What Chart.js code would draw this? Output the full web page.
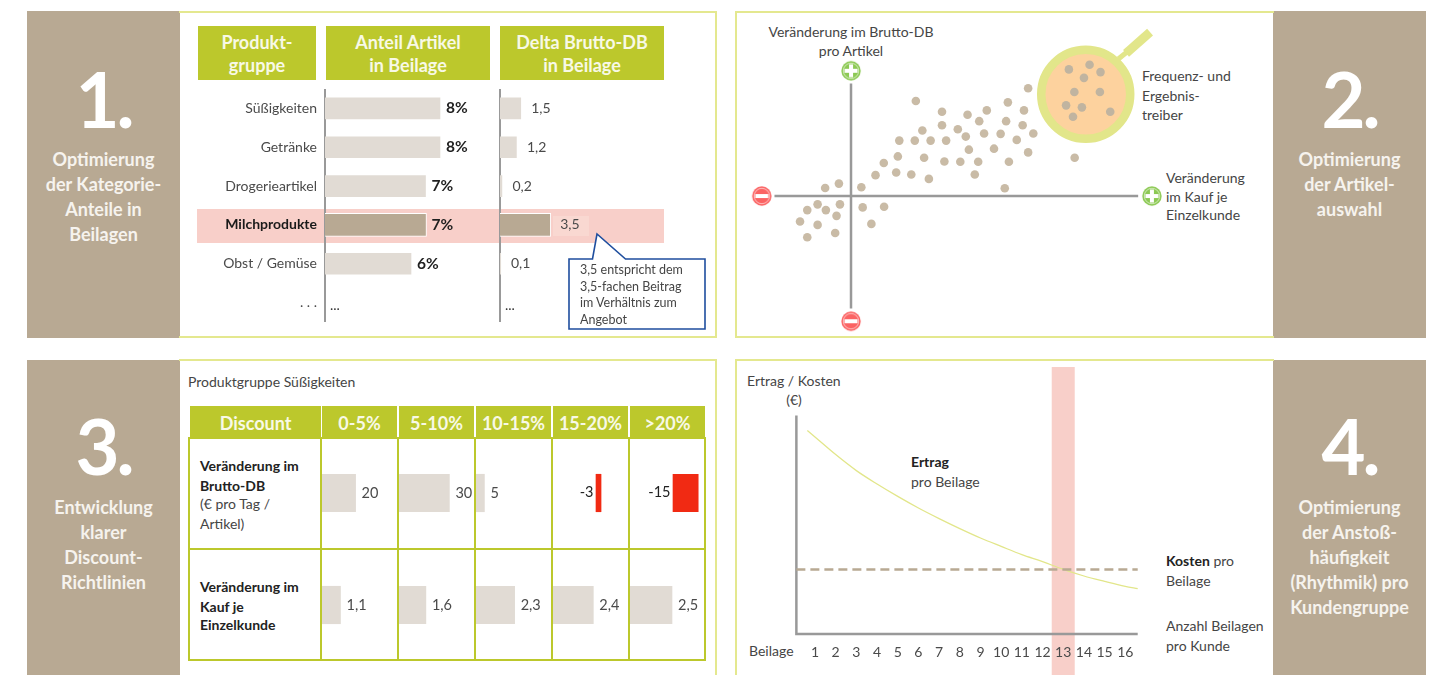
<!DOCTYPE html>
<html lang="de">
<head>
<meta charset="utf-8">
<title>Optimierung von Beilagen</title>
<script src="https://cdn.jsdelivr.net/npm/chart.js@4"></script>
<style>
  html, body { margin: 0; padding: 0; background: #fff; }
  #page { position: relative; width: 1439px; height: 675px; overflow: hidden; font-family: Lato, sans-serif; color: #454545; font-size: 14px; }
  #page canvas { position: absolute; display: block; }
  .side { position: absolute; background: #b8a993; width: 153px; color: #f6f3ee; text-align: center; }
  .num { position: absolute; left: 0; width: 153px; top: 40px; font-size: 76px; line-height: 96px; font-weight: 700; color: #fff; letter-spacing: -3px; }
  .cap { position: absolute; left: 0; width: 153px; top: 136px; font-size: 18px; line-height: 25px; font-weight: 700; }
  .frame { position: absolute; border: 2px solid #e4e88f; box-sizing: border-box; }
  .head { position: absolute; background: #bcc82c; color: #f8f9e6; font-weight: 700; text-align: center; font-size: 18px; line-height: 23px; box-sizing: border-box; }
  .t { position: absolute; white-space: nowrap; line-height: 20px; }
  .b { font-weight: 700; color: #222; }
  .line { position: absolute; background: #bcc82c; }
</style>
</head>
<body>
<div id="page">
  <!-- Seitenleisten -->
  <div class="side" style="left:27px;top:11px;height:327px"><div class="num">1.</div><div class="cap">Optimierung<br>der Kategorie-<br>Anteile in<br>Beilagen</div></div>
  <div class="side" style="left:1273px;top:11px;height:327px"><div class="num">2.</div><div class="cap">Optimierung<br>der Artikel-<br>auswahl</div></div>
  <div class="side" style="left:27px;top:360px;height:315px"><div class="num" style="top:38px">3.</div><div class="cap" style="top:135px">Entwicklung<br>klarer<br>Discount-<br>Richtlinien</div></div>
  <div class="side" style="left:1273px;top:360px;height:315px"><div class="num" style="top:38px">4.</div><div class="cap" style="top:135px">Optimierung<br>der Anstoß-<br>häufigkeit<br>(Rhythmik) pro<br>Kundengruppe</div></div>

  <!-- Rahmen -->
  <div class="frame" style="left:179px;top:11px;width:538px;height:327px;border-left:0"></div>
  <div class="frame" style="left:735px;top:11px;width:539px;height:327px;border-right:0"></div>
  <div class="frame" style="left:179px;top:359px;width:538px;height:330px;border-left:0"></div>
  <div class="frame" style="left:735px;top:359px;width:539px;height:330px;border-right:0"></div>

  <!-- Feld 1: Kopfzeilen und Markierung -->
  <div class="head" style="left:198px;top:26px;width:118px;height:54px;padding-top:5px">Produkt-<br>gruppe</div>
  <div class="head" style="left:326px;top:26px;width:164px;height:54px;padding-top:5px">Anteil Artikel<br>in Beilage</div>
  <div class="head" style="left:500px;top:26px;width:164px;height:54px;padding-top:5px">Delta Brutto-DB<br>in Beilage</div>
  <div style="position:absolute;left:197px;top:209px;width:467px;height:34px;background:#f8cfc9"></div>
  <div style="position:absolute;left:553px;top:216px;width:36px;height:20px;background:#f9d8d1"></div>

  <!-- Feld 3: Tabelle -->
  <div class="t" style="left:188px;top:372px">Produktgruppe Süßigkeiten</div>
  <div class="head" style="left:190px;top:406px;width:131px;height:31px;line-height:34px">Discount</div>
  <div class="head" style="left:322px;top:406px;width:75px;height:31px;line-height:34px">0-5%</div>
  <div class="head" style="left:399px;top:406px;width:75px;height:31px;line-height:34px">5-10%</div>
  <div class="head" style="left:476px;top:406px;width:75px;height:31px;line-height:34px">10-15%</div>
  <div class="head" style="left:553px;top:406px;width:75px;height:31px;line-height:34px">15-20%</div>
  <div class="head" style="left:630px;top:406px;width:75px;height:31px;line-height:34px">&gt;20%</div>
  <div style="position:absolute;left:188px;top:437px;width:518px;height:224px;border:2px solid #bcc82c;box-sizing:border-box"></div>
  <div class="line" style="left:188px;top:548px;width:518px;height:2px"></div>
  <div class="line" style="left:320px;top:437px;width:2px;height:224px"></div>
  <div class="line" style="left:397px;top:437px;width:2px;height:224px"></div>
  <div class="line" style="left:474px;top:437px;width:2px;height:224px"></div>
  <div class="line" style="left:551px;top:437px;width:2px;height:224px"></div>
  <div class="line" style="left:628px;top:437px;width:2px;height:224px"></div>
  <div class="t b" style="left:200px;top:456px">Veränderung im</div>
  <div class="t b" style="left:200px;top:476px">Brutto-DB</div>
  <div class="t" style="left:200px;top:494px">(€ pro Tag /</div>
  <div class="t" style="left:200px;top:514px">Artikel)</div>
  <div class="t b" style="left:200px;top:577px">Veränderung im</div>
  <div class="t b" style="left:200px;top:597px">Kauf je</div>
  <div class="t b" style="left:200px;top:615px">Einzelkunde</div>

  <!-- Feld 2: Beschriftung -->
  <div class="t" style="left:851px;top:22px;transform:translateX(-50%)">Veränderung im Brutto-DB</div>
  <div class="t" style="left:851px;top:41px;transform:translateX(-50%)">pro Artikel</div>
  <div class="t" style="left:1142px;top:66px">Frequenz- und</div>
  <div class="t" style="left:1142px;top:86px">Ergebnis-</div>
  <div class="t" style="left:1142px;top:105px">treiber</div>
  <div class="t" style="left:1166px;top:168px">Veränderung</div>
  <div class="t" style="left:1166px;top:187px">im Kauf je</div>
  <div class="t" style="left:1166px;top:205px">Einzelkunde</div>

  <!-- Feld 4: Beschriftung -->
  <div class="t" style="left:747px;top:371px">Ertrag / Kosten</div>
  <div class="t" style="left:794px;top:390px;transform:translateX(-50%)">(€)</div>
  <div class="t b" style="left:911px;top:452px">Ertrag</div>
  <div class="t" style="left:911px;top:472px">pro Beilage</div>
  <div class="t" style="left:1166px;top:551px"><span class="b">Kosten</span> pro</div>
  <div class="t" style="left:1166px;top:571px">Beilage</div>
  <div class="t" style="left:1166px;top:616px">Anzahl Beilagen</div>
  <div class="t" style="left:1166px;top:636px">pro Kunde</div>
  <div class="t" style="left:749px;top:641px">Beilage</div>
</div>

<script>
// Feld 1
const categories = ['Süßigkeiten', 'Getränke', 'Drogerieartikel', 'Milchprodukte', 'Obst / Gemüse', '. . .'];
const anteilArtikel = [8, 8, 7, 7, 6, null];
const deltaBrutto = [1.5, 1.2, 0.2, 3.5, 0.1, null];

// Feld 2
const artikelX = [62.7, 88, 112.7, 131.3, 151.7, 171.3, 167.3, 124, 150, 166, 88, 103.3, 69, 46.7, 61.7, 77, 92, 111, 128.7, 144.7, 160.3, 176.3, 138.3, 114, 171.3, 45.3, 70.7, 31.7, 90.3, 105.7, 123, 152.7, 216.3, 23.7, 43.7, 58.3, 75.3, 119.7, 148.7, 10, -11.7, -25, -32.3, -42.3, -24.3, -10.7, -14, -49.3, -32.3, -15.3, -42.3, 11.3, 32, 19.7];
const artikelY = [94.3, 83.7, 80.7, 85, 93, 107, 85, 74.3, 74.3, 70.3, 70.3, 66.3, 65, 55, 55, 55, 55, 59, 62, 61.7, 55.7, 62, 47, 46, 43.3, 39.3, 38, 32.7, 34.3, 34, 34, 34, 38, 20.7, 23.3, 21.3, 17, 21.3, 7.7, 8.7, 12.3, 8, -8.3, -14, -14, -8.3, -19.7, -25.3, -28.7, -36.7, -41, -11.3, -10.7, -27.7];
const treiberX = [210.7, 230.7, 241.3, 225.3, 216, 240.7, 208, 223.3, 214.7, 250.7];
const treiberY = [125.7, 130.3, 123, 117.3, 103.3, 103.3, 90, 88, 78.7, 83.7];

// Feld 3
const discountStufen = ['0-5%', '5-10%', '10-15%', '15-20%', '>20%'];
const bruttoDb = [20, 30, 5, -3, -15];
const kaufJeKunde = [1.1, 1.6, 2.3, 2.4, 2.5];

// Feld 4
const beilageX = [0.63, 1, 2, 3, 4, 5, 6, 7, 8, 9, 10, 11, 12, 13, 14, 15, 16, 16.6];
const ertrag = [101.7, 98.5, 89.7, 81.7, 75, 68.8, 63, 57.7, 52.7, 48, 43.8, 39.7, 36.2, 32.3, 29, 26.3, 23.8, 22.7];
const kosten = 32.3;

const FONT = 'Lato, sans-serif';
const page = document.getElementById('page');
const zip = (xs, ys) => xs.map((x, i) => ({ x, y: ys[i] }));
const comma = v => String(v).replace('.', ',');

function makeCanvas(left, top, width, height) {
  const c = document.createElement('canvas');
  c.width = width; c.height = height;
  c.style.left = left + 'px'; c.style.top = top + 'px';
  c.style.width = width + 'px'; c.style.height = height + 'px';
  page.appendChild(c);
  return c.getContext('2d');
}

const baseOptions = {
  responsive: false,
  animation: false,
  events: [],
  layout: { padding: 0, autoPadding: false },
  plugins: { legend: { display: false }, tooltip: { enabled: false } }
};

// Schreibt den Wert hinter jeden Balken
function barLabels(format, font, color, gap) {
  return {
    id: 'barLabels',
    afterDatasetsDraw(chart) {
      const ctx = chart.ctx;
      const meta = chart.getDatasetMeta(0);
      const values = chart.data.datasets[0].data;
      ctx.save();
      ctx.font = font; ctx.fillStyle = color; ctx.textBaseline = 'middle';
      meta.data.forEach((bar, i) => {
        const v = values[i];
        const xs = chart.scales.x;
        if (v === null) {
          ctx.font = `14px ${FONT}`;
          ctx.fillStyle = '#333333';
          ctx.textAlign = 'left';
          ctx.fillText('...', xs.getPixelForValue(0) + 5, chart.scales.y.getPixelForValue(i) + 3);
        } else if (v < 0) {
          ctx.textAlign = 'right';
          ctx.fillText(format(v), xs.getPixelForValue(0) - 2.5, bar.y - 1);
        } else {
          ctx.textAlign = 'left';
          ctx.fillText(format(v), xs.getPixelForValue(v) + gap, bar.y);
        }
      });
      ctx.restore();
    }
  };
}

// Feld 1: Balken mit Kategorieachse
function productBars(ctx, data, axisWidth, showLabels, maxX, labelPlugin) {
  new Chart(ctx, {
    type: 'bar',
    data: {
      labels: categories,
      datasets: [{
        data,
        barThickness: 23,
        backgroundColor: categories.map((_, i) => i === 3 ? '#b8a993' : '#e1dbd4'),
        borderColor: categories.map((_, i) => i === 3 ? '#ffffff' : 'rgba(255,255,255,0)'),
        borderWidth: 1
      }]
    },
    options: {
      ...baseOptions,
      indexAxis: 'y',
      scales: {
        x: { display: false, min: 0, max: maxX },
        y: {
          afterFit(scale) { scale.width = axisWidth; scale.paddingTop = 0; scale.paddingBottom = 0; },
          grid: { display: false, drawTicks: false },
          border: { display: true, color: '#999999', width: 2 },
          ticks: {
            display: showLabels,
            padding: 8,
            color: c => c.index === 3 ? '#1a1a1a' : '#4a4a4a',
            font: c => ({ family: FONT, size: 14, weight: c.index === 3 ? '700' : '400' })
          }
        }
      }
    },
    plugins: [labelPlugin]
  });
}
productBars(makeCanvas(190, 89, 300, 233), anteilArtikel, 135, true, 11.38,
  barLabels(v => v + '%', `bold 15.5px ${FONT}`, '#1f1f1f', 5));
productBars(makeCanvas(490, 89, 174, 233), deltaBrutto, 10, false, 11.31,
  barLabels(comma, `14px ${FONT}`, '#4a4a4a', 9.5));

// Plus- und Minuszeichen an den Achsenenden
function signIcon(color, plus) {
  const c = document.createElement('canvas');
  c.width = c.height = 22;
  const g = c.getContext('2d');
  g.fillStyle = color;
  g.beginPath(); g.arc(11, 11, 9.7, 0, Math.PI * 2); g.fill();
  g.strokeStyle = 'rgba(255,255,255,0.75)'; g.lineWidth = 0.8;
  g.beginPath(); g.arc(11, 11, 7.7, 0, Math.PI * 2); g.stroke();
  g.fillStyle = '#fff';
  g.fillRect(4.5, 9, 13, 4);
  if (plus) g.fillRect(9, 4.5, 4, 13);
  return c;
}

// Feld 2: Streudiagramm mit Achsenkreuz und Lupe
const axisLine = (xs, ys) => ({ data: zip(xs, ys), showLine: true, borderColor: '#999999', borderWidth: 2.5, pointRadius: 0, order: 5 });
new Chart(makeCanvas(737, 13, 536, 323), {
  type: 'scatter',
  data: {
    datasets: [
      axisLine([-74, 277.7], [0, 0]),
      axisLine([0, 0], [111.7, -111.7]),
      { data: zip([227], [101]), pointRadius: 44.5, pointBorderWidth: 8.5, pointBackgroundColor: '#fdd29e', pointBorderColor: '#e2e68a', order: 4 },
      { data: zip([258.5, 266.6], [136, 142.7]), showLine: true, borderColor: '#e2e68a', borderWidth: 5, pointRadius: 0, order: 4 },
      { data: zip([266, 289.2], [141.7, 162.6]), showLine: true, borderColor: '#e2e68a', borderWidth: 9, pointRadius: 0, order: 4 },
      { data: zip(artikelX, artikelY), pointRadius: 4.3, pointBorderWidth: 0, pointBackgroundColor: '#c9bba6', order: 2 },
      { data: zip(treiberX, treiberY), pointRadius: 4.3, pointBorderWidth: 0, pointBackgroundColor: '#c0b4a0', order: 1 },
      { data: zip([291, 0], [0, 124.3]), pointStyle: signIcon('#8cc953', true), pointRadius: 10, order: 1 },
      { data: zip([-86.3, 0], [0, -124.3]), pointStyle: signIcon('#fb6363', false), pointRadius: 10, order: 1 }
    ]
  },
  options: {
    ...baseOptions,
    scales: {
      x: { display: false, min: -110.25, max: 408.1 },
      y: { display: false, min: -139, max: 181.7 }
    }
  }
});

// Feld 3: je Zelle ein kleines Balkendiagramm
const cellLefts = [322.4, 399.3, 476, 552.7, 629.6];
function cellBar(left, centerY, value, unitsPerWidth, format) {
  const W = 76, H = 60;
  const negative = value < 0;
  const x = negative
    ? { display: false, reverse: true, min: -(W - 43) / unitsPerWidth, max: 43 / unitsPerWidth }
    : { display: false, min: 0, max: W / unitsPerWidth };
  new Chart(makeCanvas(left, centerY - H / 2, W, H), {
    type: 'bar',
    data: { labels: [''], datasets: [{ data: [value], barThickness: 37.5, backgroundColor: negative ? '#f12a13' : '#e1dbd4' }] },
    options: { ...baseOptions, indexAxis: 'y', scales: { x, y: { display: false } } },
    plugins: [barLabels(format, `14.5px ${FONT}`, negative ? '#222222' : '#4a4a4a', 6)]
  });
}
discountStufen.forEach((_, i) => {
  cellBar(cellLefts[i], 492.7, bruttoDb[i], 1.68, String);
  cellBar(cellLefts[i], 605, kaufJeKunde[i], 16.8, comma);
});

// Feld 4: Ertrags- und Kostenkurve
new Chart(makeCanvas(737, 361, 536, 314), {
  type: 'scatter',
  data: {
    datasets: [
      { data: zip(beilageX, ertrag), showLine: true, borderColor: '#e2e68a', borderWidth: 1.3, pointRadius: 0, tension: 0.35, order: 2 },
      { data: zip([0.1, 16.6], [kosten, kosten]), showLine: true, borderColor: '#b8a993', borderWidth: 2.5, borderDash: [9, 5], pointRadius: 0, order: 1 },
      { data: zip([0.1, 0.1, 16.6], [109.3, 0, 0]), showLine: true, borderColor: '#999999', borderWidth: 2.5, pointRadius: 0, order: 3 },
      { data: zip([13, 13], [-20.5, 133.5]), showLine: true, borderColor: '#f8cfc9', borderWidth: 23, pointRadius: 0, order: 6 }
    ]
  },
  options: {
    ...baseOptions,
    scales: {
      x: {
        type: 'linear', position: { y: 0 }, min: -2.77, max: 23.14,
        grid: { display: false, drawTicks: false },
        border: { display: false },
        ticks: {
          stepSize: 1, autoSkip: false, maxRotation: 0, padding: 10, z: 1,
          color: '#4a4a4a', font: { family: FONT, size: 14 },
          callback: v => (Number.isInteger(v) && v >= 1 && v <= 16) ? String(v) : null
        }
      },
      y: { display: false, min: -20.5, max: 136.5 }
    }
  }
});
</script>

<!-- Hinweis zum Wert 3,5 -->
<svg style="position:absolute;left:560px;top:228px" width="150" height="106">
  <path d="M9,31 L32.5,31 L37,6 L65.5,31 L145,31 L145,101 L9,101 Z" fill="#fff" stroke="#1f4e9e" stroke-width="1.6"/>
</svg>
<div style="position:absolute;left:580px;top:262px;font:12.5px/16.5px Lato,sans-serif;color:#454545;white-space:nowrap">3,5 entspricht dem<br>3,5-fachen Beitrag<br>im Verhältnis zum<br>Angebot</div>
</body>
</html>
